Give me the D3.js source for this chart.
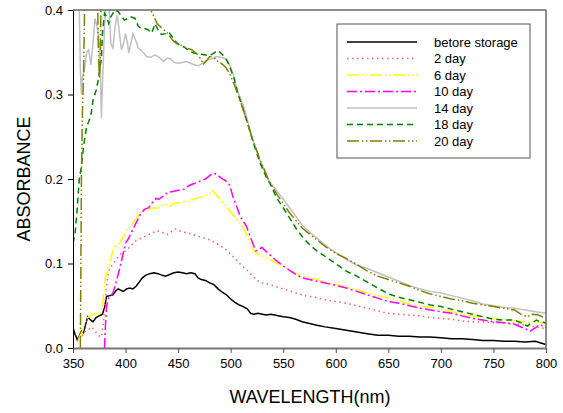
<html>
<head>
    <title>Absorbance during storage</title>
    <script type="text/javascript" src="https://cdnjs.cloudflare.com/ajax/libs/d3/7.8.5/d3.min.js"></script>
    <style>
        body { margin: 0; background: #fff; }
        text { font-family: Arial, "Liberation Sans", sans-serif; }
    </style>
</head>
<body>
<div id="chart"></div>
<script type="text/javascript">
    // [wavelength nm, absorbance]
    var beforeStorage = [[350,0.024],[352,0.016],[354,0.010],[356,0.014],[358,0.020],[360,0.018],[362,0.028],[364,0.037],[366,0.034],[369,0.031],[372,0.036],[375,0.038],[378,0.040],[380,0.048],[382,0.061],[385,0.062],[388,0.063],[391,0.068],[393,0.070],[396,0.068],[398,0.067],[401,0.070],[404,0.071],[407,0.070],[410,0.073],[413,0.078],[416,0.083],[419,0.086],[423,0.088],[427,0.089],[431,0.088],[435,0.086],[438,0.085],[442,0.087],[446,0.089],[450,0.090],[454,0.089],[458,0.088],[462,0.089],[466,0.088],[469,0.083],[472,0.081],[476,0.080],[480,0.077],[484,0.075],[488,0.070],[492,0.066],[496,0.063],[500,0.058],[504,0.054],[508,0.051],[512,0.049],[516,0.046],[519,0.041],[522,0.040],[526,0.041],[530,0.040],[534,0.039],[538,0.040],[542,0.039],[546,0.038],[550,0.037],[556,0.036],[562,0.034],[568,0.031],[575,0.029],[582,0.027],[590,0.025],[600,0.023],[610,0.021],[620,0.019],[630,0.017],[640,0.015],[650,0.015],[660,0.014],[670,0.014],[680,0.013],[690,0.013],[700,0.012],[710,0.011],[720,0.011],[730,0.010],[740,0.009],[750,0.009],[760,0.008],[770,0.008],[780,0.007],[790,0.008],[795,0.006],[800,0.004]];
    var day2 = [[354,0.008],[356,0.014],[358,0.012],[360,0.018],[362,0.020],[365,0.022],[368,0.025],[371,0.020],[374,0.015],[377,0.013],[379,0.030],[381,0.060],[383,0.085],[385,0.095],[388,0.099],[391,0.104],[394,0.110],[398,0.113],[401,0.116],[405,0.121],[410,0.127],[415,0.130],[420,0.133],[425,0.136],[430,0.139],[435,0.137],[439,0.134],[443,0.137],[447,0.141],[451,0.139],[455,0.137],[460,0.136],[465,0.134],[470,0.132],[475,0.130],[480,0.128],[485,0.125],[490,0.121],[495,0.117],[500,0.111],[505,0.105],[510,0.098],[515,0.093],[520,0.086],[525,0.080],[530,0.077],[540,0.074],[550,0.070],[560,0.066],[570,0.062],[580,0.060],[590,0.057],[600,0.055],[610,0.053],[620,0.050],[630,0.047],[640,0.044],[650,0.041],[660,0.040],[670,0.039],[680,0.038],[690,0.036],[700,0.035],[710,0.034],[720,0.032],[730,0.031],[740,0.031],[750,0.030],[760,0.030],[770,0.029],[780,0.027],[790,0.025],[800,0.023]];
    var day6 = [[355,0.010],[357,0.015],[359,0.020],[361,0.028],[363,0.035],[366,0.038],[369,0.040],[372,0.041],[375,0.040],[377,0.042],[379,0.060],[381,0.085],[384,0.097],[387,0.110],[390,0.122],[392,0.120],[395,0.125],[398,0.132],[402,0.140],[406,0.146],[410,0.153],[414,0.160],[418,0.162],[422,0.164],[426,0.166],[430,0.165],[434,0.168],[438,0.170],[442,0.168],[446,0.171],[450,0.172],[455,0.173],[460,0.174],[465,0.176],[470,0.178],[475,0.180],[480,0.183],[483,0.186],[486,0.182],[490,0.176],[494,0.170],[498,0.164],[502,0.158],[506,0.152],[510,0.146],[513,0.140],[516,0.132],[519,0.122],[522,0.115],[526,0.111],[530,0.109],[535,0.106],[540,0.103],[545,0.100],[550,0.097],[556,0.092],[562,0.088],[568,0.085],[575,0.083],[582,0.081],[590,0.078],[600,0.075],[610,0.072],[620,0.069],[630,0.065],[640,0.062],[650,0.059],[660,0.056],[670,0.052],[680,0.050],[690,0.048],[700,0.046],[710,0.043],[720,0.040],[730,0.038],[740,0.036],[750,0.035],[760,0.033],[770,0.032],[780,0.031],[790,0.031],[800,0.029]];
    var day10 = [[380,0.000],[381,0.030],[382,0.050],[384,0.059],[386,0.062],[388,0.065],[391,0.078],[394,0.092],[397,0.108],[400,0.124],[403,0.130],[406,0.138],[410,0.148],[414,0.158],[418,0.164],[422,0.166],[426,0.173],[429,0.177],[432,0.176],[436,0.180],[440,0.184],[444,0.185],[448,0.186],[452,0.187],[456,0.188],[460,0.192],[464,0.194],[468,0.196],[472,0.198],[476,0.200],[480,0.204],[484,0.207],[487,0.205],[491,0.201],[495,0.198],[499,0.193],[502,0.180],[505,0.170],[509,0.156],[512,0.150],[515,0.144],[518,0.134],[521,0.124],[524,0.115],[527,0.117],[530,0.119],[533,0.115],[536,0.112],[540,0.107],[545,0.102],[550,0.097],[556,0.092],[562,0.087],[568,0.083],[575,0.081],[582,0.079],[590,0.077],[600,0.074],[610,0.071],[620,0.067],[630,0.063],[640,0.059],[650,0.055],[660,0.053],[670,0.050],[680,0.047],[690,0.045],[700,0.043],[710,0.041],[720,0.038],[730,0.035],[740,0.033],[750,0.031],[760,0.030],[770,0.028],[778,0.024],[785,0.020],[790,0.024],[794,0.028],[800,0.024]];
    var day14 = [[350,0.46],[355,0.46],[356,0.40],[357,0.33],[358,0.30],[359,0.32],[361,0.33],[363,0.35],[365,0.353],[367,0.335],[369,0.36],[371,0.39],[373,0.38],[375,0.36],[376,0.33],[377,0.272],[378,0.31],[380,0.38],[382,0.42],[384,0.41],[386,0.36],[388,0.355],[390,0.38],[392,0.394],[394,0.375],[396,0.353],[398,0.36],[400,0.372],[402,0.36],[403,0.349],[405,0.36],[407,0.372],[410,0.363],[412,0.355],[415,0.352],[418,0.348],[420,0.345],[424,0.344],[428,0.347],[432,0.344],[436,0.339],[440,0.343],[443,0.342],[446,0.338],[450,0.337],[454,0.338],[458,0.339],[462,0.337],[466,0.335],[470,0.334],[474,0.338],[478,0.341],[482,0.342],[486,0.345],[490,0.344],[494,0.343],[497,0.340],[500,0.332],[503,0.322],[506,0.305],[509,0.297],[512,0.287],[515,0.274],[518,0.260],[521,0.247],[525,0.233],[528,0.222],[532,0.211],[536,0.199],[540,0.192],[545,0.184],[550,0.176],[556,0.166],[562,0.156],[569,0.144],[575,0.137],[582,0.130],[588,0.124],[594,0.118],[600,0.113],[610,0.105],[620,0.098],[630,0.094],[640,0.089],[650,0.084],[660,0.079],[670,0.074],[680,0.070],[690,0.067],[700,0.065],[710,0.062],[720,0.059],[730,0.056],[740,0.052],[750,0.050],[760,0.048],[770,0.047],[780,0.045],[790,0.043],[800,0.041]];
    var day18 = [[350,0.124],[352,0.135],[354,0.165],[356,0.200],[358,0.215],[360,0.238],[362,0.255],[363,0.262],[365,0.268],[367,0.275],[369,0.293],[372,0.305],[374,0.317],[376,0.335],[377,0.341],[378,0.372],[380,0.396],[382,0.392],[384,0.384],[386,0.392],[388,0.396],[390,0.400],[393,0.398],[396,0.393],[399,0.388],[402,0.390],[405,0.392],[409,0.390],[412,0.381],[415,0.378],[418,0.378],[421,0.377],[425,0.373],[428,0.384],[431,0.376],[434,0.371],[438,0.372],[441,0.374],[444,0.369],[448,0.362],[452,0.358],[456,0.356],[460,0.352],[465,0.349],[470,0.348],[475,0.347],[479,0.346],[483,0.348],[487,0.352],[490,0.350],[494,0.345],[497,0.339],[500,0.330],[503,0.320],[507,0.301],[512,0.282],[517,0.262],[522,0.241],[528,0.219],[534,0.202],[538,0.193],[544,0.177],[550,0.166],[556,0.154],[563,0.140],[570,0.129],[576,0.121],[582,0.115],[588,0.110],[595,0.104],[602,0.098],[610,0.091],[620,0.085],[630,0.078],[640,0.071],[650,0.064],[660,0.060],[670,0.057],[680,0.054],[690,0.051],[700,0.049],[710,0.046],[720,0.043],[730,0.040],[740,0.037],[750,0.034],[760,0.033],[770,0.033],[776,0.030],[782,0.026],[787,0.030],[791,0.033],[795,0.031],[800,0.030]];
    var day20 = [[357,0.00],[357.5,0.10],[358,0.20],[359,0.28],[360,0.32],[361,0.40],[362,0.45],[373,0.45],[374,0.36],[375,0.32],[376,0.34],[377,0.45],[420,0.42],[424,0.40],[427,0.392],[430,0.384],[435,0.378],[439,0.374],[442,0.369],[445,0.364],[449,0.360],[453,0.358],[458,0.355],[463,0.353],[468,0.348],[471,0.343],[474,0.336],[477,0.340],[480,0.345],[484,0.344],[488,0.339],[492,0.336],[496,0.331],[500,0.322],[503,0.313],[506,0.303],[509,0.293],[512,0.282],[515,0.270],[518,0.258],[521,0.246],[525,0.233],[528,0.222],[532,0.211],[536,0.199],[540,0.190],[545,0.180],[550,0.171],[556,0.160],[562,0.151],[568,0.142],[575,0.135],[582,0.128],[590,0.120],[600,0.112],[610,0.106],[620,0.099],[630,0.091],[640,0.085],[650,0.081],[660,0.077],[670,0.073],[680,0.068],[690,0.064],[700,0.061],[710,0.058],[720,0.056],[730,0.053],[740,0.051],[750,0.049],[760,0.047],[770,0.045],[776,0.040],[782,0.037],[787,0.040],[793,0.039],[800,0.035]];

    var seriesNames = ['betore storage', '2 day', '6 day', '10 day', '14 day', '18 day', '20 day'];
    var xTicks = [350, 400, 450, 500, 550, 600, 650, 700, 750, 800];
    var yTicks = [0.0, 0.1, 0.2, 0.3, 0.4];

    // line looks, same order as the names
    var styles = [
        {color: '#000000', width: 1.5, dash: null},
        {color: '#ff6060', width: 1.5, dash: '1.5,3.5'},
        {color: '#ffff00', width: 1.5, dash: '12,3,1.5,2.5,1.5,2.5'},
        {color: '#ff00ff', width: 1.5, dash: '10,3,2,3'},
        {color: '#c0c0c0', width: 1.5, dash: null},
        {color: '#008000', width: 1.5, dash: '6,4'},
        {color: '#808000', width: 1.5, dash: '12,3,1.5,2.5,1.5,2.5'}
    ];
    var allSeries = [beforeStorage, day2, day6, day10, day14, day18, day20];

    // plot box (note: "top" is taken by window.top, so use other names)
    var plotL = 73, plotR = 546, plotT = 10, plotB = 348;
    var x = d3.scaleLinear().domain([350, 800]).range([plotL, plotR]);
    var y = d3.scaleLinear().domain([0, 0.4]).range([plotB, plotT]);

    var svg = d3.select('#chart').append('svg')
        .attr('width', 563)
        .attr('height', 413);

    svg.append('clipPath').attr('id', 'plotclip')
        .append('rect')
        .attr('x', plotL).attr('y', plotT)
        .attr('width', plotR - plotL).attr('height', plotB - plotT);

    var line = d3.line()
        .x(function(d){ return x(d[0]); })
        .y(function(d){ return y(d[1]); });

    var lines = svg.append('g').attr('clip-path', 'url(#plotclip)');
    allSeries.forEach(function(s, i){
        lines.append('path')
            .attr('d', line(s))
            .attr('fill', 'none')
            .attr('stroke', styles[i].color)
            .attr('stroke-width', styles[i].width)
            .attr('stroke-dasharray', styles[i].dash);
    });

    // frame on top and right
    svg.append('line').attr('x1', plotL).attr('x2', plotR).attr('y1', plotT).attr('y2', plotT)
        .attr('stroke', '#666').attr('stroke-width', 1.5);
    svg.append('line').attr('x1', plotR).attr('x2', plotR).attr('y1', plotT).attr('y2', plotB)
        .attr('stroke', '#666').attr('stroke-width', 1.5);

    var xAxis = svg.append('g')
        .attr('transform', 'translate(0,' + plotB + ')')
        .call(d3.axisBottom(x).tickValues(xTicks).tickSize(5).tickSizeOuter(0));
    xAxis.select('.domain').attr('stroke', '#777').attr('stroke-width', 2);
    xAxis.selectAll('.tick line').attr('stroke', '#555');
    xAxis.selectAll('text').attr('font-size', 13).attr('fill', '#000')
        .attr('font-family', 'Arial, "Liberation Sans", sans-serif').attr('dy', '0.95em');

    var yAxis = svg.append('g')
        .attr('transform', 'translate(' + plotL + ',0)')
        .call(d3.axisLeft(y).tickValues(yTicks).tickFormat(d3.format('.1f')).tickSize(5).tickSizeOuter(0));
    yAxis.select('.domain').attr('stroke', '#000').attr('stroke-width', 1);
    yAxis.selectAll('.tick line').attr('stroke', '#000');
    yAxis.selectAll('text').attr('font-size', 13).attr('fill', '#000')
        .attr('font-family', 'Arial, "Liberation Sans", sans-serif').attr('x', -10);

    svg.append('text')
        .attr('x', 310).attr('y', 403)
        .attr('text-anchor', 'middle')
        .attr('font-size', 18)
        .text('WAVELENGTH(nm)');

    svg.append('text')
        .attr('transform', 'translate(30,179) rotate(-90)')
        .attr('text-anchor', 'middle')
        .attr('font-size', 18)
        .text('ABSORBANCE');

    // legend
    var legend = svg.append('g');
    legend.append('rect')
        .attr('x', 337).attr('y', 24).attr('width', 193).attr('height', 134)
        .attr('fill', '#fff').attr('stroke', '#555').attr('stroke-width', 1);
    seriesNames.forEach(function(name, i){
        var ly = 42 + i * 16.5;
        legend.append('line')
            .attr('x1', 347).attr('x2', 417).attr('y1', ly).attr('y2', ly)
            .attr('stroke', styles[i].color)
            .attr('stroke-width', styles[i].width)
            .attr('stroke-dasharray', styles[i].dash);
        legend.append('text')
            .attr('x', 434).attr('y', ly + 4.5)
            .attr('font-size', 13)
            .text(name);
    });
</script>
</body>
</html>
